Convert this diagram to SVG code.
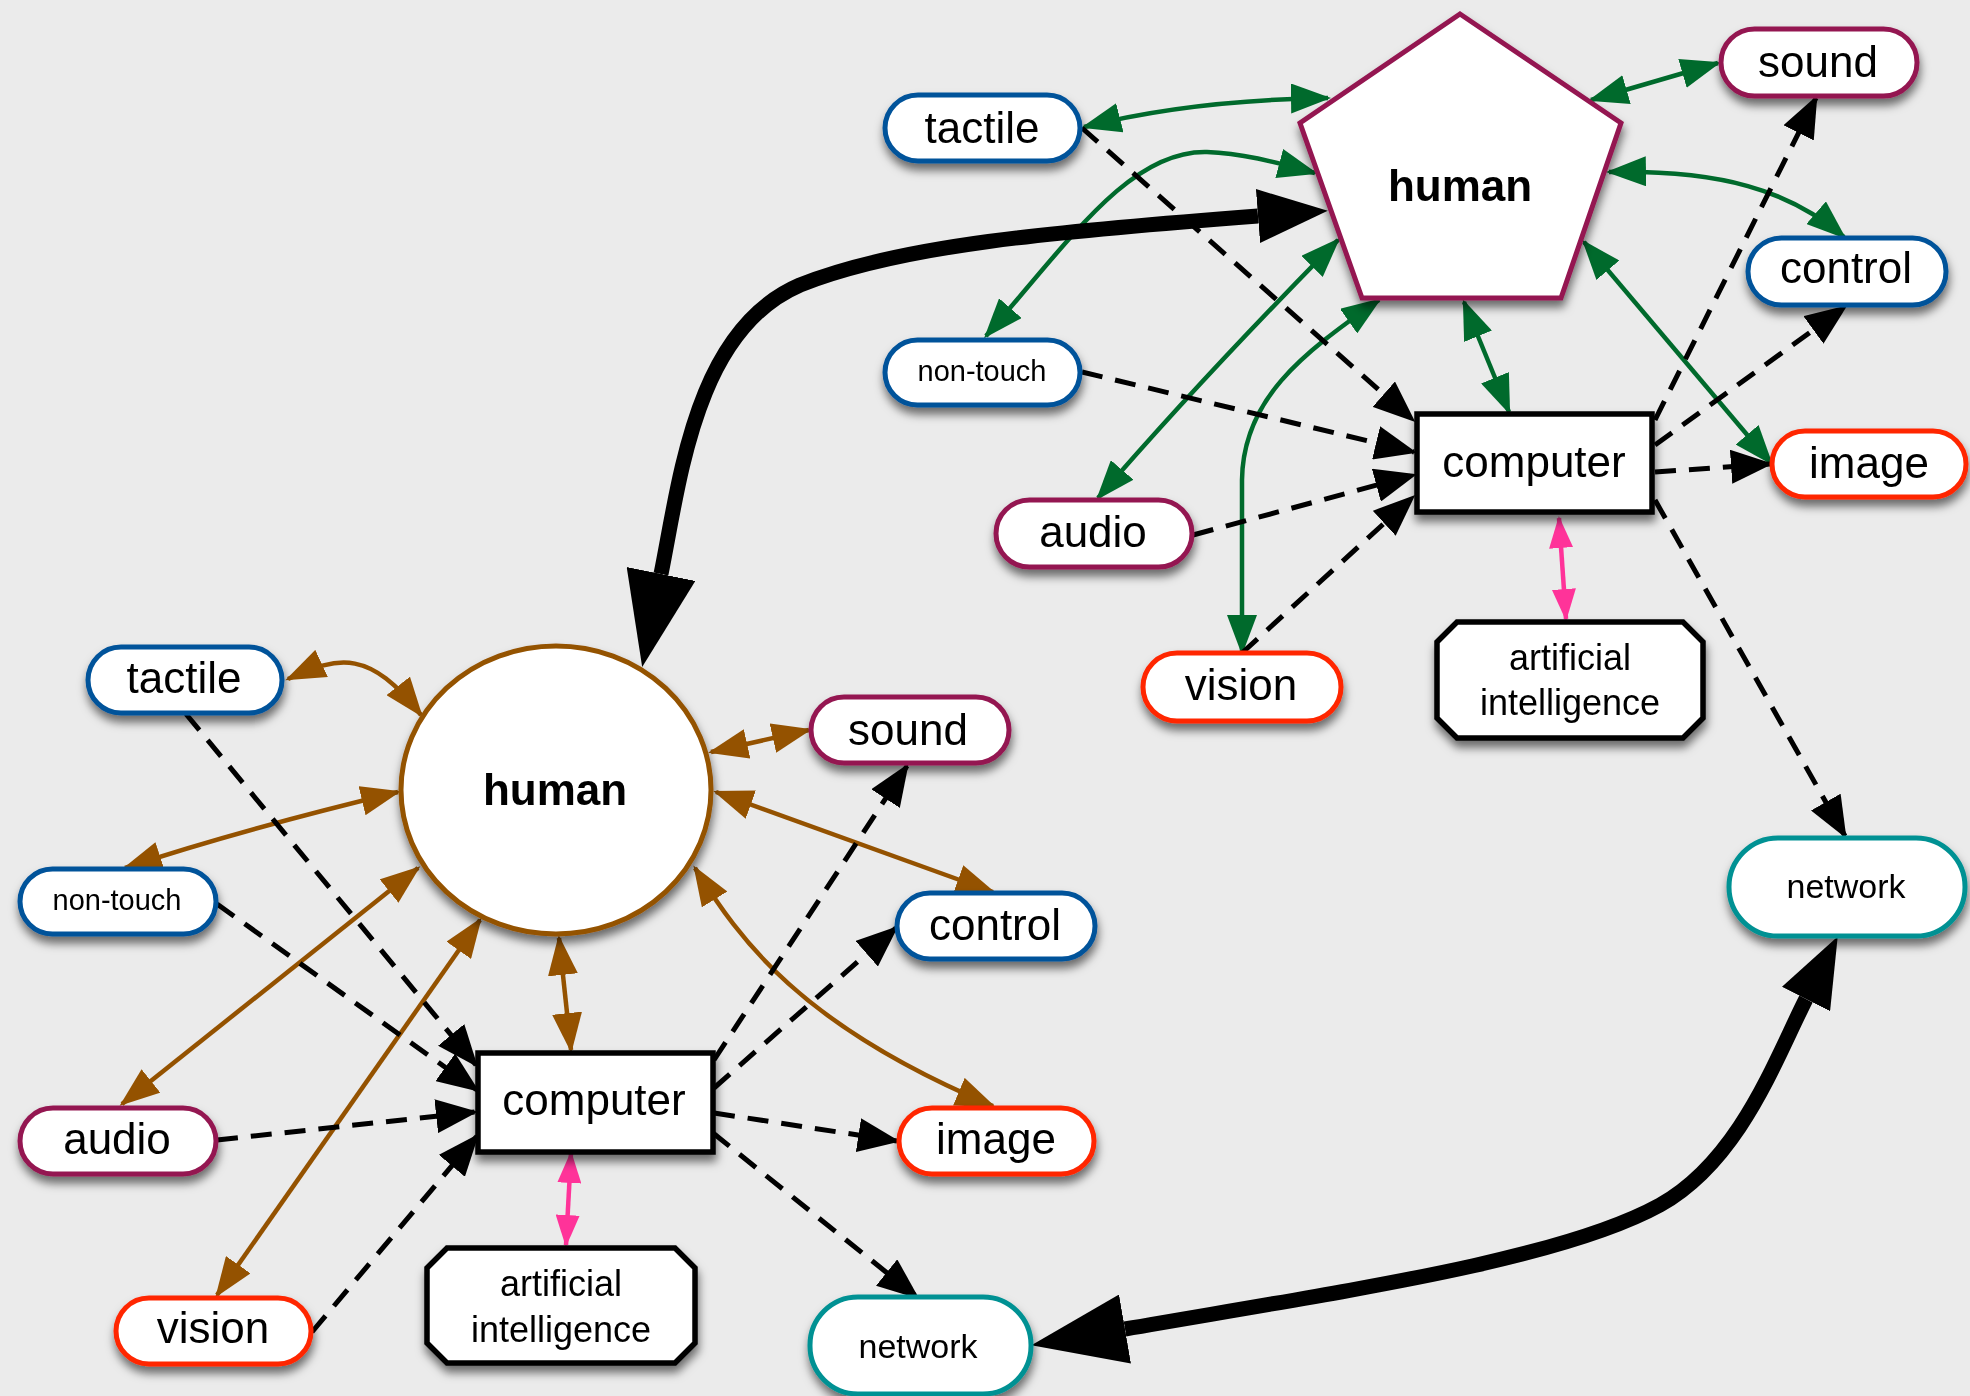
<svg xmlns="http://www.w3.org/2000/svg" width="1970" height="1396" viewBox="0 0 1970 1396">
<style>
.bg{fill:#EBEBEB}
.shape{fill:#fff;stroke-width:5}
.blue{stroke:#00529A}
.maroon{stroke:#941751}
.red{stroke:#FF2600}
.teal{stroke:#009193}
.brownS{stroke:#945200}
.blk{stroke:#000;stroke-width:5.5}
.lbl{font-family:"Liberation Sans",Arial,Helvetica,sans-serif;font-size:44px;text-anchor:middle;fill:#000}
.sm{font-size:29px}
.ai{font-size:36px}
.net{font-size:34px}
.bold{font-weight:bold}
.g{fill:none;stroke:#006A2C;stroke-width:4.5;marker-start:url(#mg);marker-end:url(#mg)}
.b{fill:none;stroke:#945200;stroke-width:4.5;marker-start:url(#mb);marker-end:url(#mb)}
.d{fill:none;stroke:#000;stroke-width:5;stroke-dasharray:21 13;marker-end:url(#mk)}
.p{fill:none;stroke:#FF3399;stroke-width:4.5;marker-start:url(#mp);marker-end:url(#mp)}
.t{fill:none;stroke:#000;stroke-width:15}
</style>
<defs>
<filter id="sh" x="-30%" y="-30%" width="160%" height="180%">
<feDropShadow dx="1" dy="7" stdDeviation="5" flood-color="#000" flood-opacity="0.55"/>
</filter>
<marker id="mg" markerUnits="userSpaceOnUse" viewBox="0 0 40 30" markerWidth="40" markerHeight="30" refX="37" refY="15" orient="auto-start-reverse"><path d="M0,0 L40,15 L0,30 Z" fill="#006A2C"/></marker>
<marker id="mb" markerUnits="userSpaceOnUse" viewBox="0 0 40 30" markerWidth="40" markerHeight="30" refX="37" refY="15" orient="auto-start-reverse"><path d="M0,0 L40,15 L0,30 Z" fill="#945200"/></marker>
<marker id="mk" markerUnits="userSpaceOnUse" viewBox="0 0 42 34" markerWidth="42" markerHeight="34" refX="39" refY="17" orient="auto"><path d="M0,0 L42,17 L0,34 Z" fill="#000"/></marker>
<marker id="mp" markerUnits="userSpaceOnUse" viewBox="0 0 32 24" markerWidth="32" markerHeight="24" refX="30" refY="12" orient="auto-start-reverse"><path d="M0,0 L32,12 L0,24 Z" fill="#FF3399"/></marker>
<marker id="tl" markerUnits="userSpaceOnUse" viewBox="0 0 95 70" markerWidth="95" markerHeight="70" refX="0" refY="35" orient="auto-start-reverse"><path d="M0,0 L95,35 L0,70 Z" fill="#000"/></marker>
<marker id="ts" markerUnits="userSpaceOnUse" viewBox="0 0 70 54" markerWidth="70" markerHeight="54" refX="0" refY="27" orient="auto-start-reverse"><path d="M0,0 L70,27 L0,54 Z" fill="#000"/></marker>
</defs>
<rect class="bg" x="0" y="0" width="1970" height="1396"/>

<g id="connectors">
  <!-- top graph: green -->
  <path class="g" d="M1084 127 Q1190 100 1328 98"/>
  <path class="g" d="M986 336 C1070 240 1130 150 1207 152 C1245 153 1285 165 1315 173"/>
  <path class="g" d="M1098 498 Q1200 380 1338 240"/>
  <path class="g" d="M1242 652 L1242 480 C1243 400 1300 355 1379 300"/>
  <path class="g" d="M1509 412 L1464 302"/>
  <path class="g" d="M1718 63 L1591 100"/>
  <path class="g" d="M1844 237 C1790 190 1720 170 1609 172"/>
  <path class="g" d="M1771 463 L1584 242"/>
  <!-- top graph: dashed -->
  <path class="d" d="M1082 128 L1413 420"/>
  <path class="d" d="M1082 372 L1414 452"/>
  <path class="d" d="M1193 535 L1414 475"/>
  <path class="d" d="M1242 653 L1413 497"/>
  <path class="d" d="M1655 420 L1816 98"/>
  <path class="d" d="M1655 445 L1845 307"/>
  <path class="d" d="M1655 472 L1770 464"/>
  <path class="d" d="M1655 500 L1845 836"/>
  <path class="p" d="M1559 518 L1566 619"/>
  <!-- bottom graph: brown -->
  <path class="b" d="M288 679 C340 655 370 650 421 715"/>
  <path class="b" d="M125 868 Q240 830 398 792"/>
  <path class="b" d="M122 1104 L418 868"/>
  <path class="b" d="M217 1295 L480 920"/>
  <path class="b" d="M571 1050 L559 938"/>
  <path class="b" d="M809 730 L711 752"/>
  <path class="b" d="M993 892 L716 792"/>
  <path class="b" d="M695 868 C740 940 800 1025 993 1106"/>
  <!-- bottom graph: dashed -->
  <path class="d" d="M186 714 L476 1065"/>
  <path class="d" d="M217 904 L477 1090"/>
  <path class="d" d="M217 1140 L475 1112"/>
  <path class="d" d="M312 1332 L477 1136"/>
  <path class="d" d="M714 1060 L907 766"/>
  <path class="d" d="M714 1088 L896 928"/>
  <path class="d" d="M714 1113 L897 1141"/>
  <path class="d" d="M713 1133 L917 1297"/>
  <path class="p" d="M571 1153 L566 1245"/>
  <!-- thick -->
  <path class="t" d="M661 574 C680 480 695 330 800 285 C900 245 1050 232 1258 216" marker-start="url(#tl)" marker-end="url(#ts)"/>
  <path class="t" d="M1125 1329 C1350 1290 1560 1260 1660 1205 C1740 1160 1775 1060 1806 999" marker-start="url(#tl)" marker-end="url(#ts)"/>
</g>

<!-- top graph nodes -->
<g id="human-top" filter="url(#sh)">
  <polygon class="shape maroon" points="1460,14 1621,123 1561,298 1362,298 1300,123"/>
  <text class="lbl bold" x="1460" y="201">human</text>
</g>
<g id="tactile-top" filter="url(#sh)">
  <rect class="shape blue" x="885" y="95" width="195" height="66" rx="33"/>
  <text class="lbl" x="982" y="143">tactile</text>
</g>
<g id="nontouch-top" filter="url(#sh)">
  <rect class="shape blue" x="885" y="340" width="195" height="65" rx="32.5"/>
  <text class="lbl sm" x="982" y="381">non-touch</text>
</g>
<g id="audio-top" filter="url(#sh)">
  <rect class="shape maroon" x="996" y="500" width="196" height="67" rx="33.5"/>
  <text class="lbl" x="1093" y="547">audio</text>
</g>
<g id="vision-top" filter="url(#sh)">
  <rect class="shape red" x="1143" y="653" width="198" height="68" rx="34"/>
  <text class="lbl" x="1241" y="700">vision</text>
</g>
<g id="computer-top" filter="url(#sh)">
  <rect class="shape blk" x="1417" y="414" width="235" height="98"/>
  <text class="lbl" x="1534" y="477">computer</text>
</g>
<g id="ai-top" filter="url(#sh)">
  <polygon class="shape blk" points="1457,622 1683,622 1703,642 1703,718 1683,738 1457,738 1437,718 1437,642"/>
  <text class="lbl ai" x="1570" y="670">artificial</text>
  <text class="lbl ai" x="1570" y="715">intelligence</text>
</g>
<g id="sound-top" filter="url(#sh)">
  <rect class="shape maroon" x="1721" y="29" width="196" height="67" rx="33.5"/>
  <text class="lbl" x="1818" y="77">sound</text>
</g>
<g id="control-top" filter="url(#sh)">
  <rect class="shape blue" x="1748" y="238" width="198" height="67" rx="33.5"/>
  <text class="lbl" x="1846" y="283">control</text>
</g>
<g id="image-top" filter="url(#sh)">
  <rect class="shape red" x="1772" y="431" width="194" height="66" rx="33"/>
  <text class="lbl" x="1869" y="478">image</text>
</g>
<g id="network-right" filter="url(#sh)">
  <rect class="shape teal" x="1729" y="838" width="236" height="98" rx="49"/>
  <text class="lbl net" x="1846" y="898">network</text>
</g>

<!-- bottom graph nodes -->
<g id="human-bottom" filter="url(#sh)">
  <ellipse class="shape brownS" cx="556" cy="790" rx="155" ry="144"/>
  <text class="lbl bold" x="555" y="805">human</text>
</g>
<g id="tactile-bottom" filter="url(#sh)">
  <rect class="shape blue" x="88" y="647" width="194" height="66" rx="33"/>
  <text class="lbl" x="184" y="693">tactile</text>
</g>
<g id="nontouch-bottom" filter="url(#sh)">
  <rect class="shape blue" x="20" y="869" width="196" height="65" rx="32.5"/>
  <text class="lbl sm" x="117" y="910">non-touch</text>
</g>
<g id="audio-bottom" filter="url(#sh)">
  <rect class="shape maroon" x="20" y="1108" width="196" height="66" rx="33"/>
  <text class="lbl" x="117" y="1154">audio</text>
</g>
<g id="vision-bottom" filter="url(#sh)">
  <rect class="shape red" x="116" y="1298" width="195" height="66" rx="33"/>
  <text class="lbl" x="213" y="1343">vision</text>
</g>
<g id="computer-bottom" filter="url(#sh)">
  <rect class="shape blk" x="478" y="1053" width="235" height="99"/>
  <text class="lbl" x="594" y="1115">computer</text>
</g>
<g id="ai-bottom" filter="url(#sh)">
  <polygon class="shape blk" points="447,1248 675,1248 695,1268 695,1343 675,1363 447,1363 427,1343 427,1268"/>
  <text class="lbl ai" x="561" y="1296">artificial</text>
  <text class="lbl ai" x="561" y="1342">intelligence</text>
</g>
<g id="sound-bottom" filter="url(#sh)">
  <rect class="shape maroon" x="811" y="697" width="198" height="66" rx="33"/>
  <text class="lbl" x="908" y="745">sound</text>
</g>
<g id="control-bottom" filter="url(#sh)">
  <rect class="shape blue" x="897" y="893" width="198" height="66" rx="33"/>
  <text class="lbl" x="995" y="940">control</text>
</g>
<g id="image-bottom" filter="url(#sh)">
  <rect class="shape red" x="899" y="1108" width="195" height="66" rx="33"/>
  <text class="lbl" x="996" y="1154">image</text>
</g>
<g id="network-bottom" filter="url(#sh)">
  <rect class="shape teal" x="810" y="1297" width="221" height="97" rx="48"/>
  <text class="lbl net" x="918" y="1358">network</text>
</g>
</svg>
